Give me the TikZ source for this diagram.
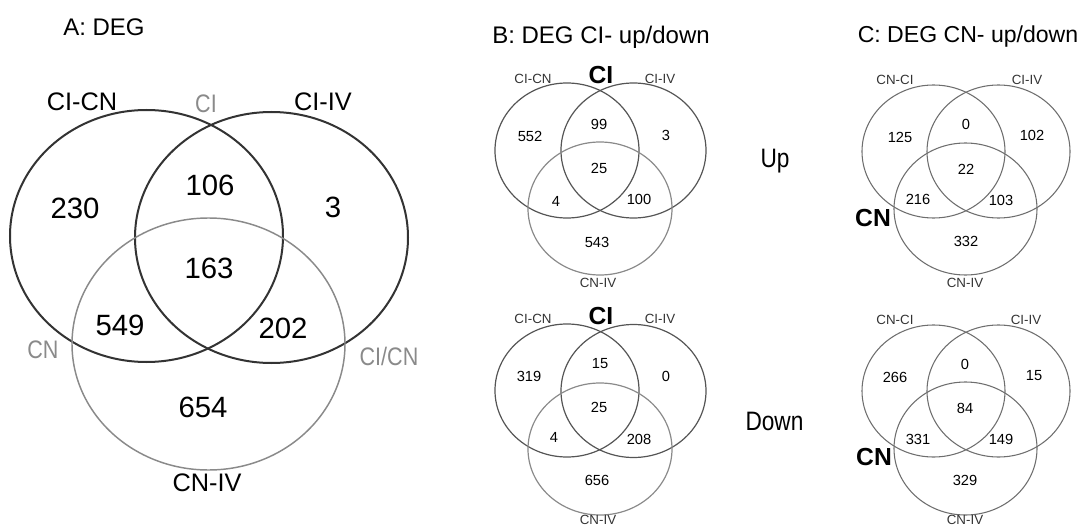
\documentclass[tikz,border=0pt]{standalone}
\usepackage{fontspec}
\setmainfont{Liberation Sans}
\newfontfamily\narfont[FakeStretch=0.85]{Liberation Sans}
\definecolor{darkc}{HTML}{333333}
\definecolor{midc}{HTML}{555555}
\definecolor{lightc}{HTML}{8A8A8A}
\definecolor{cc}{HTML}{6E6E6E}
\definecolor{labgray}{HTML}{8A8A8A}
\definecolor{labsmall}{HTML}{333333}
\begin{document}
\begin{tikzpicture}[x=0.75pt,y=-0.75pt,
  title/.style={font=\fontsize{18}{21}\selectfont, inner sep=0},
  titleC/.style={font=\fontsize{17.3}{21}\selectfont, inner sep=0},
  side/.style={font=\narfont\fontsize{20}{23}\selectfont, inner sep=0},
  numA/.style={font=\fontsize{22}{26}\selectfont, inner sep=0},
  labA/.style={font=\fontsize{19}{22}\selectfont, inner sep=0},
  glabA/.style={font=\narfont\fontsize{19}{22}\selectfont, text=labgray, inner sep=0},
  numS/.style={font=\fontsize{11}{13}\selectfont, inner sep=0},
  labS/.style={font=\fontsize{10}{12}\selectfont, text=labsmall, inner sep=0},
  bigS/.style={font=\bfseries\fontsize{18.5}{22}\selectfont, inner sep=0},
  setA/.style={draw=darkc, line width=1.5pt},
  setAg/.style={draw=lightc, line width=1.1pt},
  setB/.style={draw=midc, line width=0.9pt},
  setBg/.style={draw=lightc, line width=0.9pt},
  setC/.style={draw=cc, line width=0.8pt}
]
\useasboundingbox (0,0) rectangle (1083,528);

% ---------- Panel A ----------
\node[title] (tA) at (104,27) {A: DEG};
\draw[setA] (146.5,236) ellipse [x radius=136.5, y radius=126];
\draw[setA] (271.5,237.5) ellipse [x radius=136.5, y radius=125.5];
\draw[setAg] (208.5,344) ellipse [x radius=136.5, y radius=126];
\node[labA] (aL1) at (82,102) {CI-CN};
\node[glabA] (aL2) at (206,104) {CI};
\node[labA] (aL3) at (323,102) {CI-IV};
\node[glabA] (aL4) at (43,350) {CN};
\node[glabA] (aL5) at (389,356) {CI/CN};
\node[labA] (aL6) at (207,483) {CN-IV};
\node[numA] (a1) at (75,208) {230};
\node[numA] (a2) at (210,185) {106};
\node[numA] (a3) at (333,207) {3};
\node[numA] (a4) at (209,268) {163};
\node[numA] (a5) at (120,325) {549};
\node[numA] (a6) at (283,328) {202};
\node[numA] (a7) at (203,407) {654};

% ---------- Panel B ----------
\node[title] (tB) at (601,37) {B: DEG CI- up/down};
% up
\draw[setB] (567,150.5) ellipse [x radius=72, y radius=67.5];
\draw[setB] (633.5,150.5) ellipse [x radius=72.5, y radius=67.5];
\draw[setBg] (600,208.5) ellipse [x radius=72, y radius=66.5];
\node[labS] (bu1) at (533,79) {CI-CN};
\node[bigS] (bu2) at (601,75) {CI};
\node[labS] (bu3) at (660,79) {CI-IV};
\node[labS] (bu4) at (598,283) {CN-IV};
\node[numS] (bun1) at (530,136) {552};
\node[numS] (bun2) at (599,124) {99};
\node[numS] (bun3) at (666,135) {3};
\node[numS] (bun4) at (599,168) {25};
\node[numS] (bun5) at (556,201) {4};
\node[numS] (bun6) at (639,199) {100};
\node[numS] (bun7) at (597,242) {543};
% down
\draw[setB] (567,390.5) ellipse [x radius=72, y radius=66.5];
\draw[setB] (633.5,391) ellipse [x radius=72.5, y radius=66.5];
\draw[setBg] (600,449) ellipse [x radius=72, y radius=66];
\node[labS] (bd1) at (533,319) {CI-CN};
\node[bigS] (bd2) at (601,316) {CI};
\node[labS] (bd3) at (660,319) {CI-IV};
\node[labS] (bd4) at (598,520) {CN-IV};
\node[numS] (bdn1) at (529,376) {319};
\node[numS] (bdn2) at (600,364) {15};
\node[numS] (bdn3) at (666,376) {0};
\node[numS] (bdn4) at (599,407) {25};
\node[numS] (bdn5) at (554,437) {4};
\node[numS] (bdn6) at (639,439) {208};
\node[numS] (bdn7) at (597,480) {656};

\node[side] (up) at (775,161) {Up};
\node[side] (down) at (774.5,421) {Down};

% ---------- Panel C ----------
\node[titleC] (tC) at (968,37) {C: DEG CN- up/down};
% up
\draw[setC] (933.5,151.5) ellipse [x radius=71.5, y radius=66.5];
\draw[setC] (998.5,151.5) ellipse [x radius=71.5, y radius=66.5];
\draw[setC] (965.5,209) ellipse [x radius=71.5, y radius=66];
\node[labS] (cu1) at (895,80) {CN-CI};
\node[labS] (cu2) at (1027,80) {CI-IV};
\node[bigS] (cu3) at (873,218) {CN};
\node[labS] (cu4) at (965,283) {CN-IV};
\node[numS] (cun1) at (900,137) {125};
\node[numS] (cun2) at (966,124) {0};
\node[numS] (cun3) at (1032,135) {102};
\node[numS] (cun4) at (966,169) {22};
\node[numS] (cun5) at (918,199) {216};
\node[numS] (cun6) at (1001,200) {103};
\node[numS] (cun7) at (966,241) {332};
% down
\draw[setC] (933.5,391) ellipse [x radius=71.5, y radius=66];
\draw[setC] (998.5,391) ellipse [x radius=71.5, y radius=66];
\draw[setC] (965.5,448.5) ellipse [x radius=71.5, y radius=66.5];
\node[labS] (cd1) at (895,320) {CN-CI};
\node[labS] (cd2) at (1026,320) {CI-IV};
\node[bigS] (cd3) at (874,457) {CN};
\node[labS] (cd4) at (965,520) {CN-IV};
\node[numS] (cdn1) at (895,377) {266};
\node[numS] (cdn2) at (965,364) {0};
\node[numS] (cdn3) at (1034,376) {15};
\node[numS] (cdn4) at (965,408) {84};
\node[numS] (cdn5) at (918,439) {331};
\node[numS] (cdn6) at (1001,439) {149};
\node[numS] (cdn7) at (965,480) {329};
\end{tikzpicture}
\end{document}
